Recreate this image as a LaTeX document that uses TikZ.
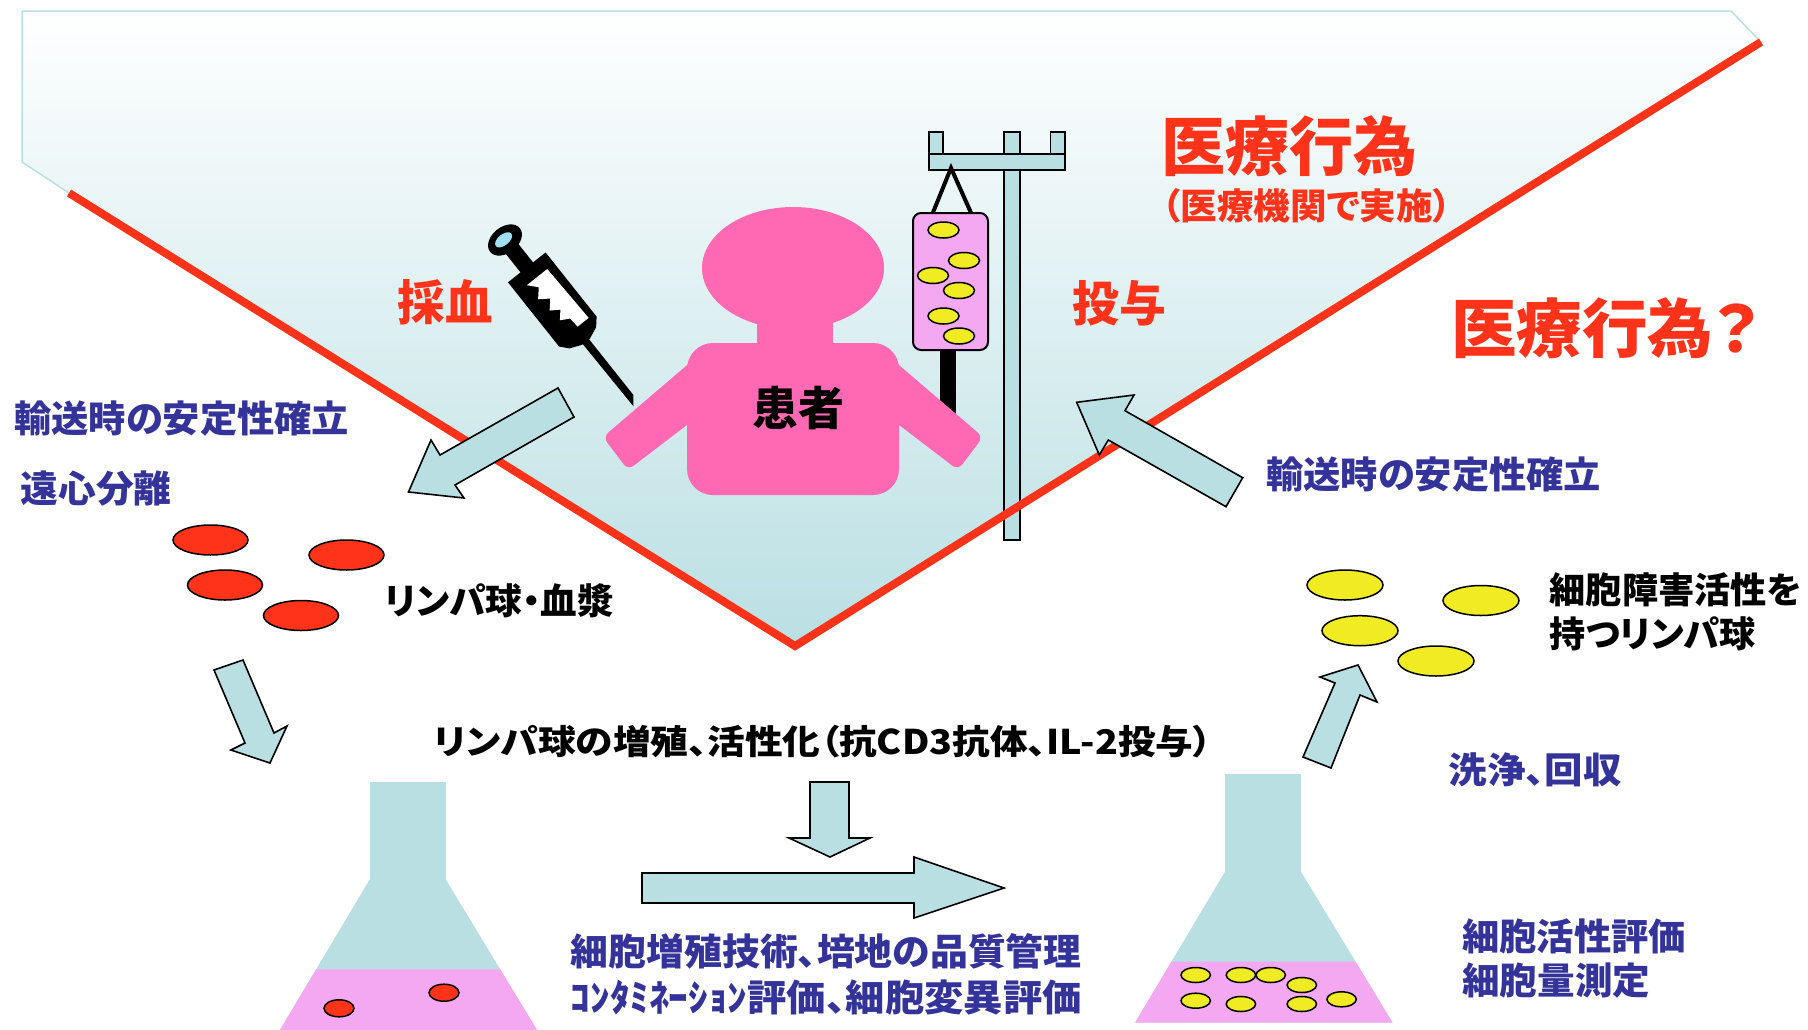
\documentclass[tikz,border=0pt]{standalone}
\usepackage{fontspec}
\setmainfont{Noto Sans CJK JP}[RawFeature=+palt]
\usepackage{graphicx}
\definecolor{mred}{RGB}{255,51,26}
\definecolor{mblue}{RGB}{51,51,153}
\definecolor{paleblue}{RGB}{185,223,227}
\definecolor{shadeblue}{RGB}{186,223,227}
\definecolor{mpink}{RGB}{255,105,180}
\definecolor{lpink}{RGB}{245,168,242}
\definecolor{myellow}{RGB}{240,235,35}
\definecolor{ringblue}{RGB}{160,222,242}
% font size in pt, bold
\newcommand\fs[1]{\fontsize{#1}{#1}\selectfont\bfseries}
% stretch a text horizontally to a given width
\newcommand\fitw[2]{\resizebox{#1pt}{\height}{#2}}
\tikzset{
  txt/.style={inner sep=0pt, anchor=west},
  blockarrow/.style={fill=paleblue, draw=black, line width=1.6pt, line join=miter},
  redcell/.style={fill=mred, draw=black, line width=1.5pt},
  yelcell/.style={fill=myellow, draw=black, line width=1.5pt},
  stand/.style={fill=paleblue, draw=black, line width=1.5pt},
}
\begin{document}
\begin{tikzpicture}[x=1pt,y=-1pt]
\useasboundingbox (0,0) rectangle (1808,1029);
\fill[white] (0,0) rectangle (1808,1029);

% funnel-shaped background
\shade[top color=white, bottom color=shadeblue]
  (22,11) -- (1731,11) -- (1761,42) -- (795,646) -- (69,193) -- (22,162) -- cycle;
\draw[paleblue, line width=1.5pt]
  (22,11) -- (1731,11) -- (1761,42) -- (795,646) -- (69,193) -- (22,162) -- cycle;

% drip stand
\fill[black] (940,348) rectangle (956,420);
\filldraw[stand] (1004,132) rectangle (1020,540);
\filldraw[stand] (929,132) rectangle (943,154);
\filldraw[stand] (1050.5,132) rectangle (1065,154);
\filldraw[stand] (929,154) rectangle (1065,170);
\draw[black, line width=4pt, line join=miter] (932,215) -- (951,168) -- (972,215);
\filldraw[fill=lpink, draw=black, line width=2pt, rounded corners=8pt] (913,213) rectangle (988,350);
\foreach \p in {(943.5,230),(964,260.5),(933,275.5),(959,290.5),(943.5,316),(959,336)}
  \filldraw[yelcell] \p ellipse [x radius=15.5, y radius=8];

% boundary of medical practice
\draw[mred, line width=8pt, line join=miter] (69,193) -- (795,646) -- (1761,42);

% syringe
\begin{scope}[shift={(505,240)}, rotate=-51.5]
  \fill[black] (8,-8) rectangle (40,8);
  \fill[black] (0,0) ellipse [x radius=13, y radius=19];
  \fill[ringblue] (-1,1) ellipse [x radius=5.5, y radius=10];
  \fill[black] (35,-24) -- (117,-24) -- (125,-17) -- (130,-5) -- (130,5) -- (125,17) -- (117,24) -- (35,24) -- cycle;
  \fill[black] (124,-4) -- (201,-4) -- (210,3) -- (124,4) -- cycle;
  \fill[white] (49,-15) -- (113,-17) -- (113,-3) -- (102,-2) -- (97,7) -- (89,0) -- (83,9)
    -- (74,1) -- (67,11) -- (58,3) -- (49,11) -- cycle;
\end{scope}

% patient
\fill[mpink] (793,268) ellipse [x radius=91, y radius=61];
\fill[mpink] (757,310) rectangle (833,350);
\fill[mpink, rounded corners=26pt] (687,343) rectangle (899,495);
\fill[mpink, rounded corners=7pt] (700,354) -- (603,437) -- (628,470) -- (700,415) -- cycle;
\fill[mpink, rounded corners=7pt] (886,354) -- (983,437) -- (958,470) -- (886,415) -- cycle;
\node[inner sep=0pt] (patient) at (798,408) {\fs{46}患者};

% block arrows
\filldraw[blockarrow] (558,388) -- (440,455) -- (431,440) -- (408.5,492) -- (464,498) -- (455,485) -- (574,417) -- cycle;
\filldraw[blockarrow] (1076.7,402.3) -- (1134,395) -- (1125,410.7) -- (1242.7,477.7) -- (1226,506.7) -- (1108.3,440) -- (1099.3,455) -- cycle;
\filldraw[blockarrow] (214,670) -- (245,743) -- (231,750) -- (270,763) -- (287,726) -- (274,733) -- (243,660) -- cycle;
\filldraw[blockarrow] (810,782) -- (849,782) -- (849,838) -- (870,838) -- (830,857) -- (789,838) -- (810,838) -- cycle;
\filldraw[blockarrow] (642,873) -- (914,873) -- (914,857) -- (1004,888) -- (914,918) -- (914,903) -- (642,903) -- cycle;
\filldraw[blockarrow] (1303,757) -- (1335,683) -- (1320,677) -- (1358,665) -- (1377,702) -- (1360,695) -- (1331,768) -- cycle;

% lymphocytes and plasma
\foreach \p in {(210.5,540),(346.5,555),(225,585),(301,615.5)}
  \filldraw[redcell] \p ellipse [x radius=37.5, y radius=15];
% cytotoxic lymphocytes
\foreach \p in {(1345,585),(1481,600.5),(1360,630.7),(1436,661)}
  \filldraw[yelcell] \p ellipse [x radius=38, y radius=15];

% culture flasks
\begin{scope}[shift={(369.7,781.7)}]
  \fill[paleblue] (0,0) rectangle (76,98);
  \fill[paleblue] (0,97.7) -- (76,97.7) -- (167.6,248.7) -- (-90,248.7) -- cycle;
  \fill[lpink] (-53.6,187.7) -- (130.6,187.7) -- (167.6,248.7) -- (-90,248.7) -- cycle;
\end{scope}
\filldraw[redcell] (339,1008.3) ellipse [x radius=15, y radius=8.5];
\filldraw[redcell] (444,992.7) ellipse [x radius=15, y radius=8.5];
\begin{scope}[shift={(1225,774)}]
  \fill[paleblue] (0,0) rectangle (76,98);
  \fill[paleblue] (0,97.7) -- (76,97.7) -- (167.6,248.7) -- (-90,248.7) -- cycle;
  \fill[lpink] (-53.6,187.7) -- (130.6,187.7) -- (167.6,248.7) -- (-90,248.7) -- cycle;
\end{scope}
\foreach \p in {(1195.7,975),(1240.9,975),(1270.7,975),(1301.8,985),(1195.7,1000.7),(1240.9,1004),(1301.8,1004),(1341.6,999.3)}
  \filldraw[yelcell] \p ellipse [x radius=14.7, y radius=7.5];

% labels
\node[txt, text=mred] (medical) at (1161,146) {\fs{64}\fitw{256}{医療行為}};
\node[txt, text=mred] (institution) at (1162,205.5) {\fs{36}\fitw{289}{（医療機関で実施）}};
\node[txt, text=mred] (question) at (1451,328.5) {\fs{64}\fitw{308}{医療行為？}};
\node[txt, text=mred] (sampling) at (397.5,302.5) {\fs{48}\fitw{95}{採血}};
\node[txt, text=mred] (dosing) at (1072.5,303.5) {\fs{48}\fitw{94}{投与}};
\node[txt, text=mblue] (transportL) at (14,418.5) {\fs{37}\fitw{335}{輸送時の安定性確立}};
\node[txt, text=mblue] (centrifuge) at (20.5,488.5) {\fs{37}\fitw{151}{遠心分離}};
\node[txt] (plasma) at (384.5,601) {\fs{36}\fitw{229}{リンパ球・血漿}};
\node[txt, text=mblue] (transportR) at (1266,475) {\fs{37}\fitw{335}{輸送時の安定性確立}};
\node[txt] (cytoA) at (1549.5,590) {\fs{36}\fitw{252}{細胞障害活性を}};
\node[txt] (cytoB) at (1549.5,634) {\fs{36}\fitw{206}{持つリンパ球}};
\node[txt, text=mblue] (wash) at (1448.5,770) {\fs{36}\fitw{173}{洗浄、回収}};
\node[txt] (expand) at (434,742) {\fs{34}\fitw{778}{リンパ球の増殖、活性化（抗CD3抗体、IL-2投与）}};
\node[txt, text=mblue] (techA) at (570.5,951) {\fs{37}\fitw{511}{細胞増殖技術、培地の品質管理}};
\node[txt, text=mblue] (techB) at (570.5,997.5) {\fs{37}\fitw{511}{ｺﾝﾀﾐﾈｰｼｮﾝ評価、細胞変異評価}};
\node[txt, text=mblue] (evalA) at (1462,936) {\fs{37}\fitw{224}{細胞活性評価}};
\node[txt, text=mblue] (evalB) at (1462,981) {\fs{37}\fitw{188}{細胞量測定}};
\end{tikzpicture}
\end{document}
